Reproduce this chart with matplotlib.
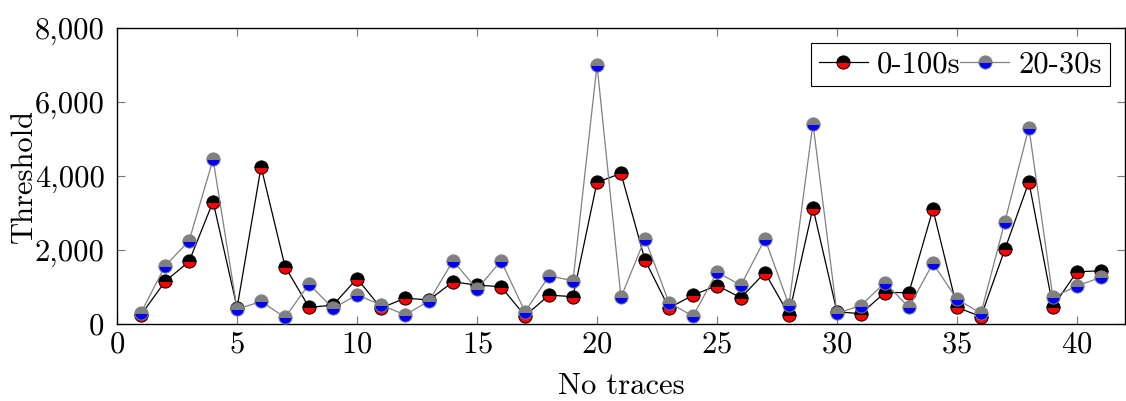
import matplotlib.pyplot as plt
import numpy as np
from matplotlib.ticker import FuncFormatter

plt.rcParams['font.family'] = 'serif'
plt.rcParams['font.serif'] = ['cmr10', 'DejaVu Serif']
plt.rcParams['mathtext.fontset'] = 'cm'
plt.rcParams['axes.formatter.use_mathtext'] = True

traces = np.arange(1, 42)

th_0_100 = [250, 1150, 1690, 3310, 440, 4250, 1550, 450, 510, 1230,
            430, 700, 650, 1140, 1050, 1010, 220, 780, 740, 3830,
            4070, 1730, 430, 780, 1040, 710, 1390, 250, 3140, 330,
            280, 850, 850, 3100, 450, 200, 2020, 3840, 470, 1410,
            1440]

th_20_30 = [310, 1570, 2250, 4450, 400, 610, 180, 1080, 420, 790,
            510, 250, 620, 1710, 940, 1710, 330, 1300, 1170, 7000,
            720, 2310, 580, 210, 1400, 1050, 2300, 510, 5420, 290,
            500, 1120, 450, 1640, 670, 290, 2770, 5310, 720, 1030,
            1260]

fig = plt.figure(figsize=(11.26, 4.01), dpi=100)
ax = fig.add_axes([0.104, 0.192, 0.895, 0.738])

ax.plot(traces, th_0_100, color='black', linewidth=0.9, marker='o',
        markersize=9.5, fillstyle='top', markerfacecolor='black',
        markerfacecoloralt='red', markeredgecolor='black',
        markeredgewidth=0.7, label='0-100s', zorder=3)
ax.plot(traces, th_20_30, color='gray', linewidth=0.9, marker='o',
        markersize=9.5, fillstyle='top', markerfacecolor='gray',
        markerfacecoloralt='blue', markeredgecolor='gray',
        markeredgewidth=0.7, label='20-30s', zorder=3)

ax.set_xlim(0, 42)
ax.set_ylim(0, 8000)
ax.set_xticks([0, 5, 10, 15, 20, 25, 30, 35, 40])
ax.set_yticks([0, 2000, 4000, 6000, 8000])
ax.yaxis.set_major_formatter(FuncFormatter(lambda v, p: f'{v:,.0f}'))
ax.tick_params(direction='in', top=True, right=True, length=6,
               color='#777777', labelsize=22)
ax.tick_params(axis='x', pad=5)
ax.tick_params(axis='y', pad=9)
for s in ax.spines.values():
    s.set_linewidth(1.0)

ax.set_xlabel('No traces', fontsize=22, labelpad=10)
ax.set_ylabel('Threshold', fontsize=22)
ax.yaxis.set_label_coords(-0.079, 0.5)

leg = ax.legend(loc='upper right', ncol=2, fontsize=22, frameon=True,
                fancybox=False, edgecolor='black', framealpha=1,
                handlelength=1.6, handletextpad=0.3, columnspacing=0.0,
                borderpad=0.25, borderaxespad=0.5)
leg.get_frame().set_linewidth(0.8)

plt.savefig('out.png')
